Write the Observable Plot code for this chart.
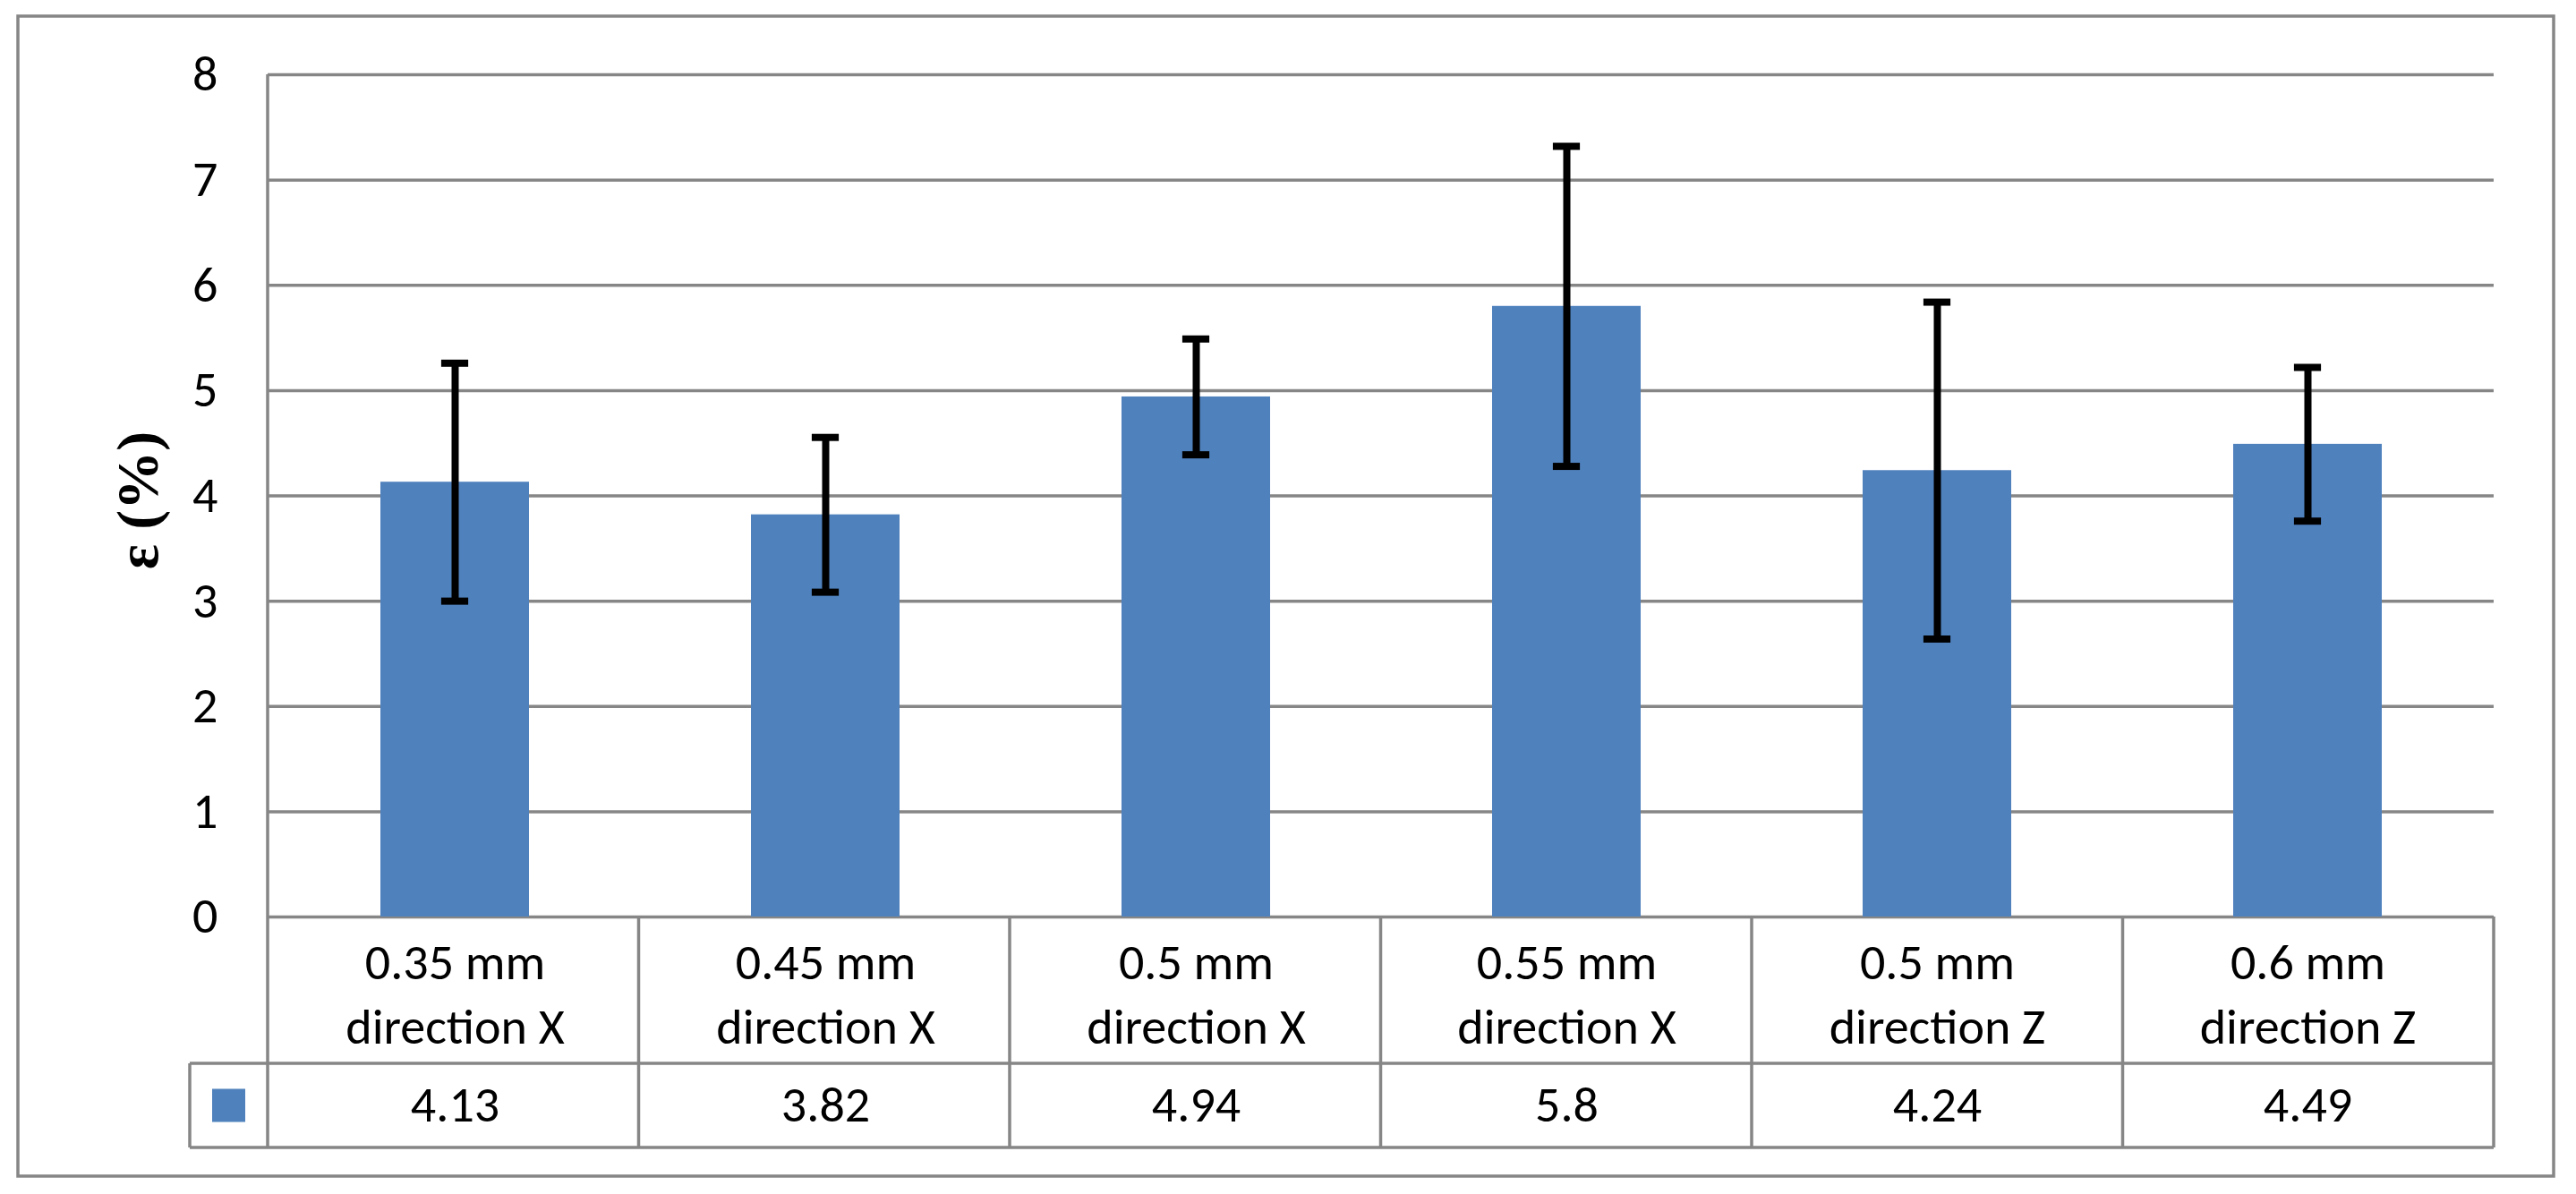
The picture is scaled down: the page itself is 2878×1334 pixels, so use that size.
<!DOCTYPE html>
<html><head><meta charset="utf-8">
<script src="https://cdn.jsdelivr.net/npm/d3@7"></script>
<script src="https://cdn.jsdelivr.net/npm/@observablehq/plot@0.6"></script>
<style>
html,body{margin:0;padding:0;background:#fff;}
#chart svg{display:block;}
</style></head><body><div id="chart"></div>
<script>
// ---- data ----
const categories = ["0.35 mm\ndirection X", "0.45 mm\ndirection X", "0.5 mm\ndirection X", "0.55 mm\ndirection X", "0.5 mm\ndirection Z", "0.6 mm\ndirection Z"];
const values = [4.13, 3.82, 4.94, 5.8, 4.24, 4.49];
const errors = [1.13, 0.735, 0.55, 1.52, 1.6, 0.73];
const yTicks = [0, 1, 2, 3, 4, 5, 6, 7, 8];
const yLabel = "ε (%)";

// ---- style/layout ----
const W = 2878, H = 1334;
const mL = 299, mR = 92, mT = 83, mB = 310;
const barColor = "#4F81BD";
const lineColor = "#868686";
const font = "Carlito, Calibri, Lato, sans-serif";
const fs = 56;
const padInner = 0.6, padOuter = 0.3;
const step = (W - mL - mR) / categories.length;
const bw = step * (1 - padInner);
const capW = 30;
const capInset = (bw - capW) / 2;

const data = categories.map((c, i) => ({cat: c, value: values[i], lo: values[i] - errors[i], hi: values[i] + errors[i]}));

function tableMark(index, scales, vals, dims) {
  const left = dims.marginLeft, right = dims.width - dims.marginRight;
  const top = dims.marginTop, base = dims.height - dims.marginBottom;
  const n = categories.length, colW = (right - left) / n;
  const row1 = base + 164, row2 = row1 + 94;
  const legendLeft = left - 87;
  const g = d3.create("svg:g").attr("stroke", lineColor).attr("stroke-width", 3.5).attr("fill", "none");
  const line = (x1, y1, x2, y2) => g.append("line").attr("x1", x1).attr("y1", y1).attr("x2", x2).attr("y2", y2);
  line(left, top, left, row2);
  for (let i = 1; i <= n; i++) line(left + i * colW, base, left + i * colW, row2);
  line(legendLeft, row1, right, row1);
  line(legendLeft, row2, right, row2);
  line(legendLeft, row1, legendLeft, row2);
  const cx = (legendLeft + left) / 2, cy = (row1 + row2) / 2, s = 37;
  g.append("rect").attr("x", cx - s / 2).attr("y", cy - s / 2).attr("width", s).attr("height", s).attr("fill", barColor).attr("stroke", "none");
  g.append("rect").attr("x", 20).attr("y", 18).attr("width", 2853 - 20).attr("height", 1314 - 18);
  return g.node();
}

const chart = Plot.plot({
  width: W, height: H,
  marginLeft: mL, marginRight: mR, marginTop: mT, marginBottom: mB,
  style: {fontFamily: font, fontSize: fs + "px", color: "black", background: "white", overflow: "visible"},
  x: {domain: categories, paddingInner: padInner, paddingOuter: padOuter, axis: null},
  y: {domain: [0, 8], axis: null},
  marks: [
    Plot.gridY(yTicks, {stroke: lineColor, strokeOpacity: 1, strokeWidth: 3.5}),
    Plot.barY(data, {x: "cat", y: "value", fill: barColor}),
    Plot.ruleX(data, {x: "cat", y1: "lo", y2: "hi", stroke: "black", strokeWidth: 8}),
    Plot.tickY(data, {x: "cat", y: "hi", stroke: "black", strokeWidth: 8, insetLeft: capInset, insetRight: capInset}),
    Plot.tickY(data, {x: "cat", y: "lo", stroke: "black", strokeWidth: 8, insetLeft: capInset, insetRight: capInset}),
    Plot.axisY(yTicks, {tickSize: 0, tickPadding: 56, fontSize: fs, fill: "black", label: null, tickFormat: d => String(d)}),
    Plot.text(data, {x: "cat", text: "cat", frameAnchor: "bottom", lineAnchor: "middle", dy: 82, lineHeight: 72 / fs, fontSize: fs, fill: "black"}),
    Plot.text(data, {x: "cat", text: d => String(d.value), frameAnchor: "bottom", lineAnchor: "middle", dy: 211, fontSize: fs, fill: "black"}),
    Plot.text([yLabel], {frameAnchor: "left", text: d => d, rotate: -90, dx: -145, dy: 5, textAnchor: "middle", lineAnchor: "middle", fontSize: 66, fontWeight: "bold", fontFamily: "'Liberation Serif', 'DejaVu Serif', serif", fill: "black"}),
    tableMark
  ]
});
document.getElementById("chart").appendChild(chart);
</script>
</body></html>
